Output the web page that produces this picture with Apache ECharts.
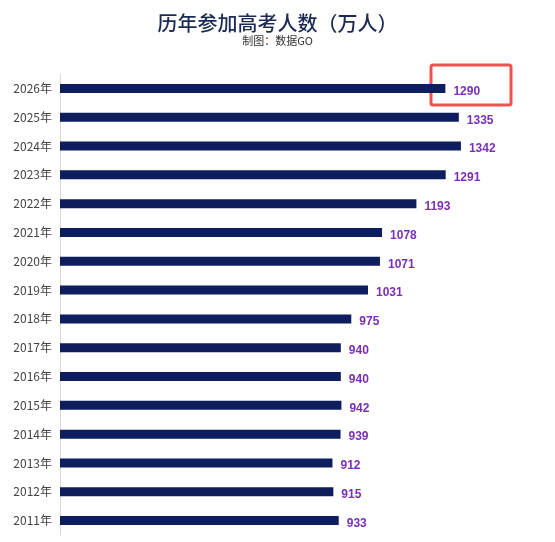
<!DOCTYPE html>
<html><head><meta charset="utf-8">
<script src="https://cdn.jsdelivr.net/npm/echarts@6/dist/echarts.min.js"></script>
<style>html,body{margin:0;padding:0;background:#fff}#c{width:555px;height:542px}</style>
</head><body><div id="c"></div>
<script>
const categories = ['2026年','2025年','2024年','2023年','2022年','2021年','2020年','2019年','2018年','2017年','2016年','2015年','2014年','2013年','2012年','2011年'];
const values = [1290,1335,1342,1291,1193,1078,1071,1031,975,940,940,942,939,912,915,933];
const chart = echarts.init(document.getElementById('c'));
chart.setOption({
  animation:false,
  title:{text:'历年参加高考人数（万人）',subtext:'制图：数据GO',left:'center',top:8,itemGap:2,
    textStyle:{fontSize:20,color:'#1b2a55',fontWeight:500,fontFamily:'Noto Sans CJK SC'},
    subtextStyle:{fontSize:11,color:'#333',fontFamily:'Noto Sans CJK SC'}},
  grid:{left:60,right:17,top:74,bottom:7},
  xAxis:{type:'value',min:0,max:1600,show:false},
  yAxis:{type:'category',inverse:true,data:categories,
    axisLine:{lineStyle:{color:'#d9d9d9'}},axisTick:{show:false},
    axisLabel:{color:'#444',fontSize:12,margin:8,fontFamily:'Noto Sans CJK SC'}},
  series:[{type:'bar',data:values,barWidth:9,itemStyle:{color:'#0d1d5e'},
    label:{show:true,position:'right',distance:8,offset:[0,3],color:'#7b2fb5',fontWeight:'bold',fontSize:12}}],
  graphic:[{type:'rect',shape:{x:431,y:65,width:80,height:40,r:2},style:{fill:'none',stroke:'#f05050',lineWidth:3}}]
});
</script></body></html>
